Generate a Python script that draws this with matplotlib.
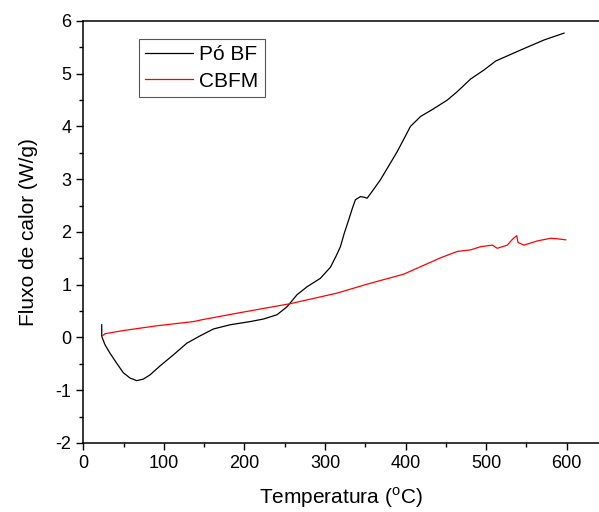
import matplotlib
matplotlib.use("Agg")
import matplotlib.pyplot as plt
from matplotlib.ticker import MultipleLocator

plt.rcParams["font.family"] = ["Liberation Sans", "DejaVu Sans"]
plt.rcParams["mathtext.fontset"] = "custom"
plt.rcParams["mathtext.rm"] = "Liberation Sans"
plt.rcParams["axes.unicode_minus"] = False

# Pó BF (black)
bf_temp = [22.9, 22.9, 27, 33.2, 41.5, 49.7, 58, 66.4, 74.6, 82.9, 95.3, 111.9,
           128.5, 145, 161.6, 182.3, 207.2, 224, 240.4, 252.8, 265.3, 277.7,
           294.2, 306.7, 314, 319.1, 324, 329.4, 334, 337.7, 343.9, 348, 352.3,
           360, 368.8, 389.5, 406, 418.6, 432, 451.7, 464.1, 480.7, 497.2, 511.7,
           542.8, 571.8, 596.6]
bf_flux = [0.24, 0.02, -0.14, -0.30, -0.49, -0.67, -0.77, -0.82, -0.79, -0.71,
           -0.54, -0.33, -0.11, 0.03, 0.16, 0.24, 0.30, 0.35, 0.43, 0.58, 0.81,
           0.96, 1.12, 1.33, 1.55, 1.72, 1.98, 2.23, 2.45, 2.61, 2.67, 2.66, 2.64,
           2.80, 2.99, 3.52, 4.00, 4.19, 4.31, 4.50, 4.66, 4.90, 5.07, 5.24,
           5.45, 5.64, 5.77]

# CBFM (red)
cb_temp = [22.9, 27, 49.7, 91.2, 136.7, 149, 194.8, 257, 315, 352.3, 397.8,
           443.4, 464.1, 480.7, 493.1, 507.6, 513.8, 520, 526.3, 532.5, 537.9,
           539.5, 546.9, 563.6, 580.1, 588.4, 598.8]
cb_flux = [0.02, 0.07, 0.13, 0.22, 0.30, 0.34, 0.47, 0.64, 0.84, 1.01, 1.20,
           1.51, 1.63, 1.66, 1.72, 1.75, 1.69, 1.72, 1.75, 1.86, 1.93, 1.80,
           1.75, 1.83, 1.88, 1.87, 1.85]

fig = plt.figure(figsize=(5.99, 5.12), dpi=100)
ax = fig.add_axes([0.139, 0.135, 0.861, 0.824])

ax.plot(bf_temp, bf_flux, color="black", lw=0.9, label="Pó BF")
ax.plot(cb_temp, cb_flux, color="red", lw=0.9, label="CBFM")

ax.set_xlim(0, 640)
ax.set_ylim(-2, 6)
ax.xaxis.set_major_locator(MultipleLocator(100))
ax.xaxis.set_minor_locator(MultipleLocator(50))
ax.yaxis.set_major_locator(MultipleLocator(1))
ax.yaxis.set_minor_locator(MultipleLocator(0.5))
ax.tick_params(which="major", direction="out", length=5, width=1, labelsize=13)
ax.tick_params(which="minor", direction="out", length=3, width=1)
ax.spines["right"].set_visible(False)
for s in ["left", "bottom", "top"]:
    ax.spines[s].set_linewidth(1.1)

ax.set_xlabel(r"Temperatura ($^{\rm o}$C)", fontsize=15, labelpad=10)
ax.set_ylabel("Fluxo de calor (W/g)", fontsize=15, labelpad=13)

leg = ax.legend(loc="upper left", bbox_to_anchor=(0.108, 0.957), fontsize=15,
                frameon=True, fancybox=False, framealpha=1, edgecolor="#555555",
                handlelength=2.3, handletextpad=0.3, borderpad=0.3,
                labelspacing=0.35, borderaxespad=0)
leg.get_frame().set_linewidth(0.8)

fig.savefig("out.png", dpi=100)
